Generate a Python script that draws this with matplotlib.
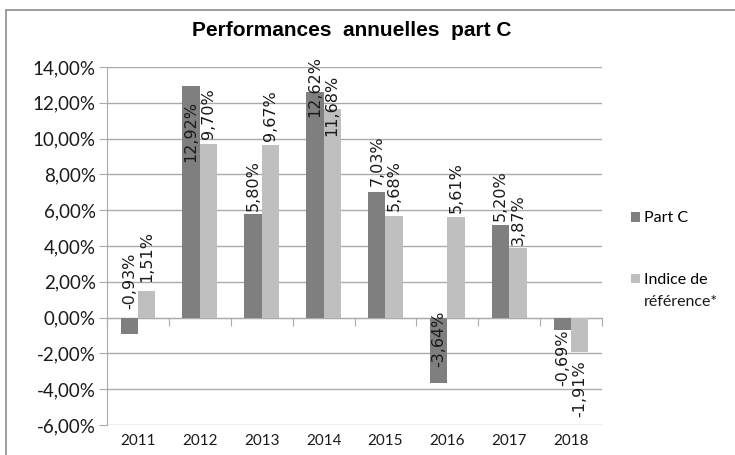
import matplotlib
matplotlib.use("Agg")
import matplotlib.pyplot as plt
import matplotlib.ticker as ticker
from matplotlib.patches import Rectangle
import numpy as np

years = ["2011", "2012", "2013", "2014", "2015", "2016", "2017", "2018"]
part_c = [-0.93, 12.92, 5.80, 12.62, 7.03, -3.64, 5.20, -0.69]
indice = [1.51, 9.70, 9.67, 11.68, 5.68, 5.61, 3.87, -1.91]
series_names = ["Part C", "Indice de", "référence*"]

# décalage vertical (pixels) du centre des étiquettes par rapport au bout de la barre
dy_part_c = [53, -45, 28, 5, 31, 44, 29, -28]
dy_indice = [34, 30, 29, 3, 30, 30, 29, -37]

DARK = "#7f7f7f"
LIGHT = "#bfbfbf"
GRID = "#ababab"
TXT = "#1a1a1a"
W, H = 735, 455

fig = plt.figure(figsize=(W / 100, H / 100), dpi=100)
ax = fig.add_axes([107 / W, 30 / H, (602 - 107) / W, (425 - 67) / H])

# cadre gris autour du graphique (coupé à droite et en bas)
fig.patches.append(Rectangle((6 / W, -0.1), 1.2, 1.1 - 10 / H, transform=fig.transFigure,
                             fill=False, edgecolor="#8c8c8c", linewidth=1.2))

x = np.arange(len(years))
bw = 0.28
b1 = ax.bar(x - bw / 2, part_c, bw, color=DARK, label=series_names[0], zorder=3)
b2 = ax.bar(x + bw / 2, indice, bw, color=LIGHT, label=series_names[1], zorder=3)

def fr(v):
    return f"{v:.2f}".replace(".", ",") + "%"

for bars, vals, dys in ((b1, part_c, dy_part_c), (b2, indice, dy_indice)):
    for bar, v, d in zip(bars, vals, dys):
        ax.annotate(fr(v), (bar.get_x() + bar.get_width() / 2, v),
                    xytext=(0, d), textcoords="offset pixels",
                    rotation=90, ha="center", va="center",
                    fontsize=11.5, family="DejaVu Sans", color=TXT,
                    zorder=4, annotation_clip=False)

ax.set_xlim(-0.5, len(years) - 0.5)
ax.set_ylim(-6, 14)
ax.yaxis.set_major_locator(ticker.MultipleLocator(2))
ax.yaxis.set_major_formatter(ticker.FuncFormatter(lambda v, p: fr(v)))
ax.grid(axis="y", color=GRID, linewidth=1, zorder=0)
ax.tick_params(axis="y", length=6, color=GRID, labelsize=13.5, pad=2, labelcolor=TXT)
for lab in ax.get_yticklabels():
    lab.set_family("Lato")

for s in ("top", "right"):
    ax.spines[s].set_visible(False)
ax.spines["left"].set_color(GRID)
ax.spines["bottom"].set_position(("data", 0))
ax.spines["bottom"].set_color(GRID)
ax.set_xticks(np.arange(len(years) + 1) - 0.5)
ax.set_xticklabels([])
ax.tick_params(axis="x", length=6, color=GRID, direction="out")

for i, y in enumerate(years):
    ax.text(i, -0.045, y, transform=ax.get_xaxis_transform(), ha="center", va="center",
            fontsize=11, family="Lato", color=TXT)

fig.text(352 / W, 1 - 30 / H, "Performances  annuelles  part C", ha="center", va="center",
         fontsize=15, fontweight="bold", family=["Liberation Sans Narrow", "Liberation Sans"],
         fontstretch="condensed")

# légende : carré aligné sur la première ligne du libellé
ax.legend(loc="upper left", bbox_to_anchor=(617 / W, 1 - 197 / H), bbox_transform=fig.transFigure,
          frameon=False, handlelength=0.55, handleheight=0.55, handletextpad=0.25,
          labelspacing=3.0, prop={"family": "Lato", "size": 11.5})
fig.text(644 / W, 1 - 302 / H, series_names[2], ha="left", va="center",
         fontsize=11.5, family="Lato", color=TXT)

fig.savefig("out.png", dpi=100)
